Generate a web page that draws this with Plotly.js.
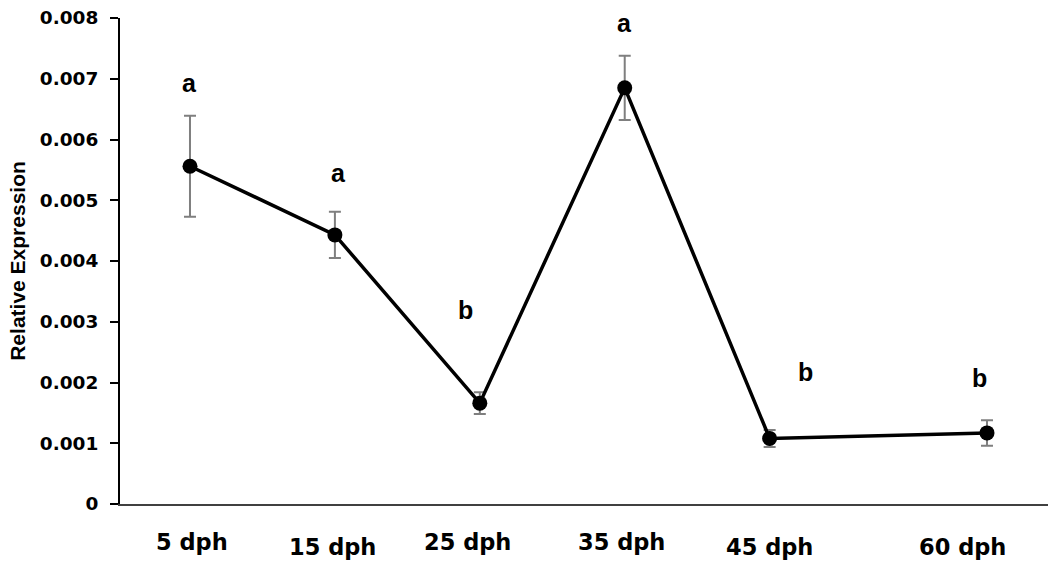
<!DOCTYPE html>
<html>
<head>
<meta charset="utf-8">
<script src="https://cdn.plot.ly/plotly-3.0.1.min.js"></script>
<style>html,body{margin:0;padding:0;background:#fff;}#chart{width:1051px;height:561px;}</style>
</head>
<body>
<div id="chart"></div>
<script>
// Data
const days = [5, 15, 25, 35, 45, 60];
const dayLabels = ["5 dph", "15 dph", "25 dph", "35 dph", "45 dph", "60 dph"];
const meanExpr = [0.00556, 0.00443, 0.00166, 0.00685, 0.00108, 0.00117];
const errExpr = [0.00083, 0.00038, 0.00018, 0.00053, 0.00014, 0.00021];
const sigLetters = ["a", "a", "b", "a", "b", "b"];
const yTicks = [0, 0.001, 0.002, 0.003, 0.004, 0.005, 0.006, 0.007, 0.008];
const yTickText = ["0", "0.001", "0.002", "0.003", "0.004", "0.005", "0.006", "0.007", "0.008"];

// Layout-only offsets (pixels)
const letterShiftX = [0, 4, -14, 0, 36, -7];
const letterShiftY = [33, 39, 82, 33, 58, 42];
const labelShiftX = [2, -2, -12, -3, 0, -24];
const labelShiftY = [0, -5, 0, 0, -5, -5];

const trace = {
  x: days,
  y: meanExpr,
  type: "scatter",
  mode: "lines+markers",
  line: {color: "#000000", width: 3.5},
  marker: {color: "#000000", size: 15},
  error_y: {type: "data", array: errExpr, visible: true, color: "#7f7f7f", thickness: 2, width: 6},
  hoverinfo: "skip",
  showlegend: false
};

const annotations = [];
days.forEach((d, i) => {
  annotations.push({
    x: d, y: meanExpr[i] + errExpr[i], xref: "x", yref: "y",
    text: sigLetters[i], showarrow: false,
    xshift: letterShiftX[i], yshift: letterShiftY[i],
    font: {family: "Liberation Sans, Arial, sans-serif", size: 25, color: "#000", weight: "bold"}
  });
  annotations.push({
    x: d, y: 0, xref: "x", yref: "paper",
    text: dayLabels[i], showarrow: false,
    xanchor: "center", yanchor: "middle",
    xshift: labelShiftX[i], yshift: -38 + labelShiftY[i],
    font: {family: "DejaVu Sans, sans-serif", size: 22.5, color: "#000", weight: "bold"}
  });
});

const layout = {
  width: 1051, height: 561,
  margin: {l: 120, r: 3, t: 18, b: 57},
  paper_bgcolor: "#ffffff", plot_bgcolor: "#ffffff",
  xaxis: {
    range: [0.17, 64.21],
    showgrid: false, zeroline: false,
    showline: true, linecolor: "#404040", linewidth: 2,
    showticklabels: false, ticks: "", fixedrange: true
  },
  yaxis: {
    range: [0, 0.008],
    tickvals: yTicks, ticktext: yTickText,
    showgrid: false, zeroline: false,
    showline: true, linecolor: "#000000", linewidth: 2,
    ticks: "outside", ticklen: 8, tickwidth: 2, tickcolor: "#000",
    ticklabelstandoff: 8,
    tickfont: {family: "DejaVu Sans, sans-serif", size: 18.5, color: "#000", weight: "bold"},
    title: {text: "Relative Expression", standoff: 8,
      font: {family: "Liberation Sans, Arial, sans-serif", size: 21, color: "#000", weight: "bold"}},
    fixedrange: true
  },
  annotations: annotations
};

Plotly.newPlot("chart", [trace], layout, {staticPlot: true, displayModeBar: false});
</script>
</body>
</html>
